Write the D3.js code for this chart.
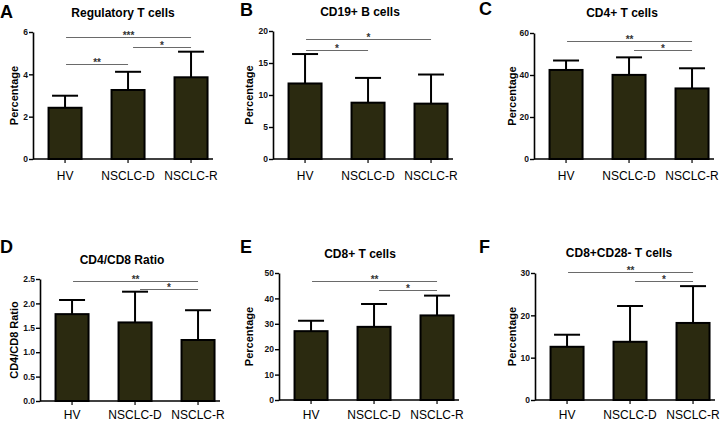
<!DOCTYPE html>
<html><head><meta charset="utf-8">
<script src="https://cdn.jsdelivr.net/npm/d3@7"></script>
<style>
html,body{margin:0;padding:0;background:#fff;}
svg{display:block;font-family:"Liberation Sans",Arial,sans-serif;}
</style></head>
<body><svg id="c" width="727" height="421"></svg>
<script>
// ---- data ----
const categories = ["HV", "NSCLC-D", "NSCLC-R"];
const panelLetters = ["A", "B", "C", "D", "E", "F"];
const panelTitles = ["Regulatory T cells", "CD19+ B cells", "CD4+ T cells", "CD4/CD8 Ratio", "CD8+ T cells", "CD8+CD28- T cells"];
const yAxisLabels = ["Percentage", "Percentage", "Percentage", "CD4/CD8 Ratio", "Percentage", "Percentage"];

const tregMean = [2.42, 3.26, 3.86];
const tregSD   = [0.57, 0.86, 1.21];
const bMean    = [11.8, 8.8, 8.65];
const bSD      = [4.6, 3.87, 4.55];
const cd4Mean  = [42.4, 40.05, 33.6];
const cd4SD    = [4.5, 8.35, 9.6];
const ratioMean= [1.78, 1.61, 1.25];
const ratioSD  = [0.29, 0.63, 0.61];
const cd8Mean  = [27.1, 28.8, 33.3];
const cd8SD    = [4.1, 9.0, 7.8];
const cd28Mean = [12.57, 13.75, 18.2];
const cd28SD   = [2.85, 8.45, 8.7];

const yMaxes = [6, 20, 60, 2.5, 50, 30];
const yTicks = [[0,2,4,6],[0,5,10,15,20],[0,20,40,60],[0,0.5,1,1.5,2,2.5],[0,10,20,30,40,50],[0,10,20,30]];
const yFormats = ["d","d","d",".1f","d","d"];

// significance brackets: [fromIndex, toIndex, label, level (data units)]
const tregSig  = [[0,2,"***",5.75],[1,2,"*",5.29],[0,1,"**",4.49]];
const bSig     = [[0,2,"*",18.75],[0,1,"*",16.98]];
const cd4Sig   = [[0,2,"**",56.4],[1,2,"*",52.1]];
const ratioSig = [[0,2,"**",2.46],[1,2,"*",2.295]];
const cd8Sig   = [[0,2,"**",46.9],[1,2,"*",43.2]];
const cd28Sig  = [[0,2,"**",30.2],[1,2,"*",28.0]];

const means = [tregMean, bMean, cd4Mean, ratioMean, cd8Mean, cd28Mean];
const sds   = [tregSD, bSD, cd4SD, ratioSD, cd8SD, cd28SD];
const sigs  = [tregSig, bSig, cd4Sig, ratioSig, cd8Sig, cd28Sig];

// ---- layout ----
const layout = [
  {ax:33,  y0:159, yt:32,  lx:0,   ly:18,  tx:123, ty:17, ylx:18,  xl:13},
  {ax:273, y0:159, yt:31,  lx:240, ly:16,  tx:360, ty:16, ylx:253, xl:13},
  {ax:534, y0:159, yt:33,  lx:479, ly:15,  tx:622, ty:17, ylx:516, xl:13},
  {ax:40,  y0:401, yt:279, lx:0,   ly:253, tx:122, ty:264, ylx:18,  xl:10},
  {ax:279, y0:400, yt:273, lx:240, ly:253, tx:360, ty:258, ylx:253, xl:11},
  {ax:535, y0:400, yt:273, lx:479, ly:253, tx:619, ty:257, ylx:516, xl:11}
];

const svg = d3.select("#c");
const barFill = "#2b2a10";

layout.forEach((L, i) => {
  const g = svg.append("g");
  const x = d3.scaleBand().domain(categories).range([L.ax, L.ax + 180])
    .paddingInner(0.476).paddingOuter(0.1667).align(0.74);
  const y = d3.scaleLinear().domain([0, yMaxes[i]]).range([L.y0, L.yt]);
  const bw = x.bandwidth();

  // bars
  g.selectAll("rect.bar").data(categories).join("rect")
    .attr("x", d => x(d)).attr("width", bw)
    .attr("y", (d, k) => y(means[i][k]))
    .attr("height", (d, k) => L.y0 - y(means[i][k]))
    .attr("fill", barFill).attr("stroke", "#000").attr("stroke-width", 2);

  // error bars
  const eb = g.selectAll("g.eb").data(categories).join("g");
  eb.append("line")
    .attr("x1", d => x(d) + bw/2).attr("x2", d => x(d) + bw/2)
    .attr("y1", (d, k) => y(means[i][k])).attr("y2", (d, k) => y(means[i][k] + sds[i][k]))
    .attr("stroke", "#000").attr("stroke-width", 2);
  eb.append("line")
    .attr("x1", d => x(d) + bw/2 - 13).attr("x2", d => x(d) + bw/2 + 13)
    .attr("y1", (d, k) => y(means[i][k] + sds[i][k])).attr("y2", (d, k) => y(means[i][k] + sds[i][k]))
    .attr("stroke", "#000").attr("stroke-width", 2);

  // y axis
  const ya = g.append("g").attr("transform", `translate(${L.ax},0)`)
    .call(d3.axisLeft(y).tickValues(yTicks[i]).tickFormat(d3.format(yFormats[i])).tickSize(4).tickSizeOuter(0));
  ya.select(".domain").attr("stroke", "#000").attr("stroke-width", 1.6);
  ya.selectAll(".tick line").attr("stroke", "#000").attr("stroke-width", 1.4);
  ya.selectAll(".tick text").attr("font-size", 8.5).attr("font-weight", "bold")
    .attr("font-family", "Liberation Sans, Arial, sans-serif").attr("fill", "#111").attr("x", -5);

  // x axis
  const xa = g.append("g").attr("transform", `translate(0,${L.y0})`)
    .call(d3.axisBottom(x).tickSize(4).tickSizeOuter(0));
  xa.select(".domain").attr("stroke", "#000").attr("stroke-width", 1.6)
    .attr("d", `M${L.ax},0H${L.ax + 180}`);
  xa.selectAll(".tick line").attr("stroke", "#000").attr("stroke-width", 1.2);
  xa.selectAll(".tick text").attr("font-size", 12).attr("font-weight", "normal")
    .attr("font-family", "Liberation Sans, Arial, sans-serif").attr("fill", "#000")
    .attr("dy", null).attr("y", L.xl + 8);

  // significance
  sigs[i].forEach(s => {
    const x1 = x(categories[s[0]]) + bw/2 + (s[0] === 1 ? 5 : 1);
    const x2 = x(categories[s[1]]) + bw/2;
    const yy = Math.round(y(s[3])) + 0.5;
    g.append("line").attr("x1", x1).attr("x2", x2).attr("y1", yy).attr("y2", yy)
      .attr("stroke", "#6a6a6a").attr("stroke-width", 1.2);
    g.append("text").attr("x", (x1 + x2)/2).attr("y", yy + 1)
      .attr("text-anchor", "middle").attr("font-size", 10).attr("font-weight", "bold")
      .attr("fill", "#333").text(s[2]);
  });

  // title
  g.append("text").attr("x", L.tx).attr("y", L.ty).attr("text-anchor", "middle")
    .attr("font-size", 12).attr("font-weight", "bold").text(panelTitles[i]);
  // panel letter
  g.append("text").attr("x", L.lx).attr("y", L.ly)
    .attr("font-size", 18).attr("font-weight", "bold").text(panelLetters[i]);
  // y label
  g.append("text").attr("transform", `translate(${L.ylx},${(L.y0 + L.yt)/2}) rotate(-90)`)
    .attr("text-anchor", "middle").attr("font-size", 11).attr("font-weight", "bold")
    .text(yAxisLabels[i]);
});
</script></body></html>
